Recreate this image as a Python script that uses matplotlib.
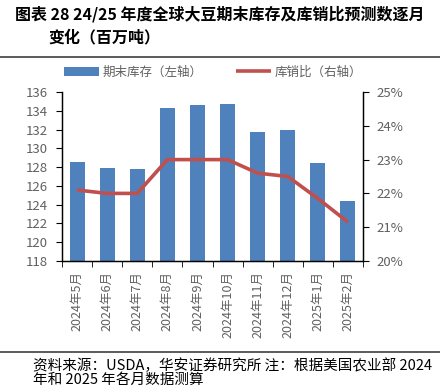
import matplotlib
matplotlib.use("Agg")
import matplotlib.pyplot as plt
from matplotlib.ticker import FuncFormatter, FixedLocator
import numpy as np

plt.rcParams['font.family'] = ['Noto Sans CJK SC', 'DejaVu Sans']

months = ["2024年5月", "2024年6月", "2024年7月", "2024年8月", "2024年9月",
          "2024年10月", "2024年11月", "2024年12月", "2025年1月", "2025年2月"]
stocks = [128.5, 127.9, 127.8, 134.3, 134.6, 134.7, 131.7, 131.9, 128.4, 124.4]
ratio = [22.1, 22.0, 22.0, 23.0, 23.0, 23.0, 22.6, 22.5, 21.85, 21.15]

title1 = "图表 28 24/25 年度全球大豆期末库存及库销比预测数逐月"
title2 = "变化（百万吨）"
note1 = "资料来源：USDA，华安证券研究所 注：根据美国农业部 2024"
note2 = "年和 2025 年各月数据测算"

gray = "#606060"
fig = plt.figure(figsize=(4.4, 3.88), dpi=100)
W, H = 440, 388
ax = fig.add_axes([62 / W, 1 - 261 / H, (363 - 62) / W, (261 - 92) / H])
ax2 = ax.twinx()

x = np.arange(len(months))
b = ax.bar(x, stocks, width=0.5, color="#4F81BD", zorder=2, label="期末库存（左轴）")
l, = ax2.plot(x, ratio, color="#C0504D", lw=2.6, label="库销比（右轴）", solid_capstyle="butt")

ax.set_ylim(118, 136)
ax.set_yticks(np.arange(118, 137, 2))
ax.set_xlim(-0.5, len(months) - 0.5)
ax2.set_ylim(20, 25)
ax2.set_yticks(np.arange(20, 26, 1))
ax2.yaxis.set_major_formatter(FuncFormatter(lambda v, p: f"{v:.0f}%"))

ax.xaxis.set_major_locator(FixedLocator(x))
ax.xaxis.set_major_formatter(FuncFormatter(lambda v, p: months[int(round(v))] if 0 <= round(v) < len(months) else ""))
ax.xaxis.set_minor_locator(FixedLocator(np.arange(-0.5, len(months), 1)))
ax.tick_params(axis="x", which="major", length=0, labelrotation=90, labelsize=9, labelcolor=gray, pad=7)
ax.tick_params(axis="x", which="minor", length=4, direction="out", color="black")
ax.tick_params(axis="y", labelsize=9.5, labelcolor=gray, length=4, direction="out", pad=6)
ax2.tick_params(axis="y", labelsize=9.5, labelcolor=gray, length=4, direction="out", pad=6)

for a in (ax, ax2):
    a.spines["top"].set_visible(False)
    for s in ("left", "right", "bottom"):
        a.spines[s].set_color("black")
        a.spines[s].set_linewidth(0.9)

fig.legend(handles=[b, l], loc="center", bbox_to_anchor=(213 / W, 1 - 72 / H), ncol=2,
           frameon=False, fontsize=9, labelcolor=gray, handlelength=2.8, columnspacing=2.6,
           handletextpad=0.3)

fig.text(15 / W, 1 - 14 / H, title1, fontsize=11.5, fontweight="bold", va="center", ha="left")
fig.text(48 / W, 1 - 37 / H, title2, fontsize=11.5, fontweight="bold", va="center", ha="left")
fig.add_artist(plt.Line2D([0, 1], [1 - 57 / H, 1 - 57 / H], color="#404040", lw=1.2))
fig.add_artist(plt.Line2D([0, 1], [1 - 352 / H, 1 - 352 / H], color="#404040", lw=1.2))
fig.text(33 / W, 1 - 366 / H, note1, fontsize=10.5, va="center", ha="left")
fig.text(33 / W, 1 - 380 / H, note2, fontsize=10.5, va="center", ha="left")

fig.savefig("out.png", dpi=100)
